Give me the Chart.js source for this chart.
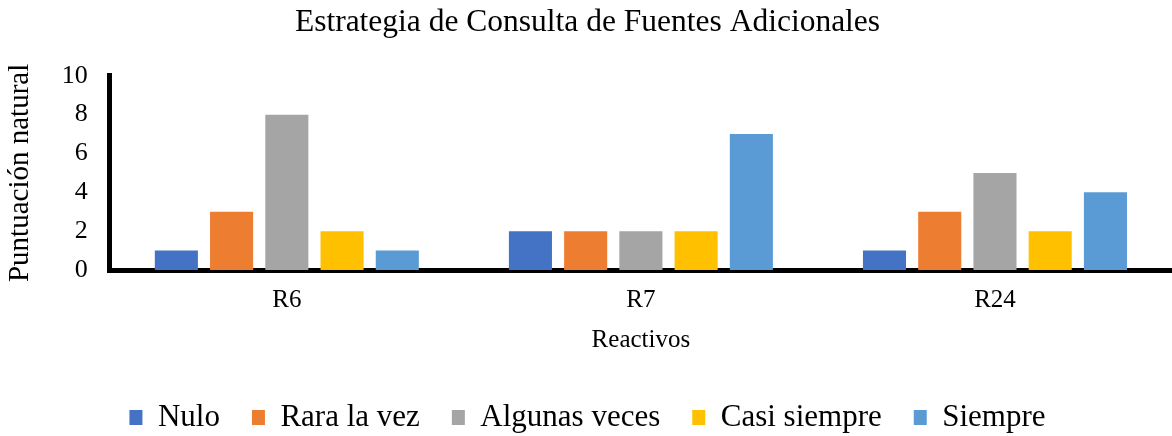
<!DOCTYPE html>
<html>
<head>
<meta charset="utf-8">
<script src="https://cdn.jsdelivr.net/npm/chart.js@4/dist/chart.umd.min.js"></script>
<style>
  html, body { margin: 0; padding: 0; background: #fff; }
  #wrap { width: 1172px; height: 436px; }
</style>
</head>
<body>
<div id="wrap"><canvas id="chart"></canvas></div>
<script>
const categories = ['R6', 'R7', 'R24'];
const seriesNames = ['Nulo', 'Rara la vez', 'Algunas veces', 'Casi siempre', 'Siempre'];
const nulo = [1, 2, 1];
const raraLaVez = [3, 2, 3];
const algunasVeces = [8, 2, 5];
const casiSiempre = [2, 2, 2];
const siempre = [1, 7, 4];
const seriesColors = ['#4472C4', '#ED7D31', '#A5A5A5', '#FFC000', '#5B9BD5'];
const yTicks = [0, 2, 4, 6, 8, 10];

const serif = "'Liberation Serif', 'Times New Roman', serif";
const values = [nulo, raraLaVez, algunasVeces, casiSiempre, siempre];

const ctx = document.getElementById('chart').getContext('2d');
new Chart(ctx, {
    type: 'bar',
    data: {
        labels: categories,
        datasets: seriesNames.map((name, i) => ({
            label: name,
            data: values[i],
            backgroundColor: seriesColors[i],
            borderWidth: 0,
            categoryPercentage: 0.78,
            barPercentage: 0.78
        }))
    },
    options: {
        responsive: true,
        maintainAspectRatio: false,
        animation: false,
        layout: { padding: { left: 3, right: 0, top: 2, bottom: -7 } },
        plugins: {
            title: {
                display: true,
                text: 'Estrategia de Consulta de Fuentes Adicionales',
                color: '#000',
                font: { family: serif, size: 31.5, weight: 'normal' },
                padding: { top: 2, bottom: 34 }
            },
            legend: {
                position: 'bottom',
                labels: {
                    color: '#000',
                    font: { family: serif, size: 31 },
                    boxWidth: 13,
                    boxHeight: 15,
                    padding: 32
                }
            },
            tooltip: { enabled: false }
        },
        scales: {
            x: {
                grid: { display: false },
                border: { display: true, color: '#000', width: 5 },
                ticks: { color: '#000', font: { family: serif, size: 25 }, padding: 7 },
                title: {
                    display: true,
                    text: 'Reactivos',
                    color: '#000',
                    font: { family: serif, size: 25 },
                    padding: { top: 3, bottom: 15 }
                }
            },
            y: {
                min: 0,
                max: 10,
                afterBuildTicks: axis => { axis.ticks = yTicks.map(v => ({ value: v })); },
                grid: { display: false },
                border: { display: true, color: '#000', width: 5 },
                ticks: { color: '#000', font: { family: serif, size: 26 }, padding: 14, autoSkip: false },
                title: {
                    display: true,
                    text: 'Puntuación natural',
                    color: '#000',
                    font: { family: serif, size: 29 },
                    padding: { top: 0, bottom: 10 }
                }
            }
        }
    }
});
</script>
</body>
</html>
